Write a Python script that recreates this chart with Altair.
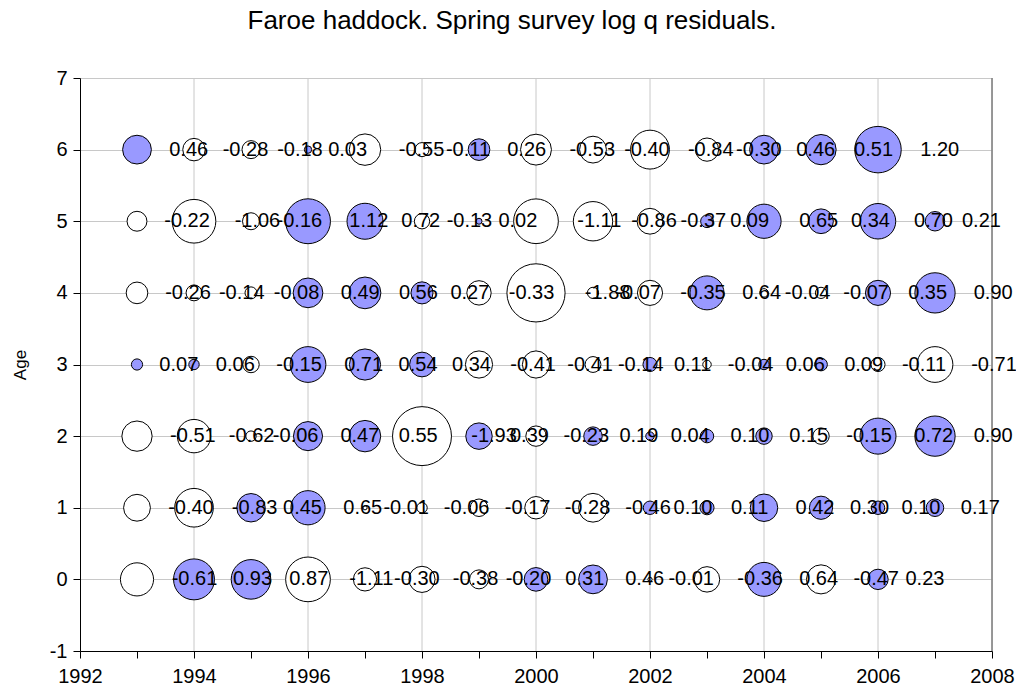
import altair as alt
import pandas as pd

# ---- data ----
years = list(range(1993, 2008))
ages = [0, 1, 2, 3, 4, 5, 6]

age0 = [-0.61, 0.93, 0.87, -1.11, -0.30, -0.38, -0.20, 0.31, 0.46, -0.01, -0.36, 0.64, -0.47, 0.23, None]
age1 = [-0.40, -0.83, 0.45, 0.65, -0.01, -0.06, -0.17, -0.28, -0.46, 0.10, 0.11, 0.42, 0.30, 0.10, 0.17]
age2 = [-0.51, -0.62, -0.06, 0.47, 0.55, -1.93, 0.39, -0.23, 0.19, 0.04, 0.10, 0.15, -0.15, 0.72, 0.90]
age3 = [0.07, 0.06, -0.15, 0.71, 0.54, 0.34, -0.41, -0.41, -0.14, 0.11, -0.04, 0.06, 0.09, -0.11, -0.71]
age4 = [-0.26, -0.14, -0.08, 0.49, 0.56, 0.27, -0.33, -1.88, -0.07, -0.35, 0.64, -0.04, -0.07, 0.35, 0.90]
age5 = [-0.22, -1.06, -0.16, 1.12, 0.72, -0.13, 0.02, -1.11, -0.86, -0.37, 0.09, 0.65, 0.34, 0.70, 0.21]
age6 = [0.46, -0.28, -0.18, 0.03, -0.55, -0.11, 0.26, -0.53, -0.40, -0.84, -0.30, 0.46, 0.51, 1.20, None]

x_ticks = list(range(1992, 2009))
y_ticks = [-1, 0, 1, 2, 3, 4, 5, 6, 7]
grid_years = [1994, 1996, 1998, 2000, 2002, 2004, 2006, 2008]

rows = []
for age, vals in zip(ages, [age0, age1, age2, age3, age4, age5, age6]):
    for yr, v in zip(years, vals):
        if v is None:
            continue
        rows.append({"year": yr, "age": age, "v": v, "absv": abs(v), "label": f"{v:.2f}"})
df = pd.DataFrame(rows)

FONT = "Liberation Sans"
PX_PER_YEAR = 912 / 16
AREA_PER_UNIT = 1800

xscale = alt.Scale(domain=[1992, 2008], nice=False, zero=False)
yscale = alt.Scale(domain=[-1, 7], nice=False, zero=False)

xaxis = alt.Axis(
    values=x_ticks, grid=False, title=None, tickSize=7, tickColor="black",
    domainColor="black", labelFont=FONT, labelFontSize=20, labelColor="black",
    labelPadding=8, labelExpr="datum.value % 2 == 0 ? '' + datum.value : ''",
    labelFlush=False, labelOverlap=False,
)
yaxis = alt.Axis(
    values=y_ticks, grid=True, gridColor="#c8c8c8", title="Age", tickSize=7,
    tickColor="black", domainColor="black", labelFont=FONT, labelFontSize=20,
    labelColor="black", labelPadding=6, labelExpr="'' + datum.value",
    titleFont=FONT, titleFontSize=17, titleFontWeight="normal", titleColor="black",
    titlePadding=20, labelOverlap=False,
)

base = alt.Chart(df)

bubbles = base.mark_circle(stroke="black", strokeWidth=1, opacity=1).encode(
    x=alt.X("year:Q", scale=xscale, axis=xaxis),
    y=alt.Y("age:Q", scale=yscale, axis=yaxis),
    size=alt.Size("absv:Q", scale=alt.Scale(domain=[0, 2], range=[0, 2 * AREA_PER_UNIT]), legend=None),
    fill=alt.condition(alt.datum.v > 0, alt.value("#9999ff"), alt.value("white")),
)

labels = base.transform_calculate(
    lx=f"datum.year + (sqrt(datum.absv * {AREA_PER_UNIT} / PI) + 16) / {PX_PER_YEAR}"
).mark_text(align="left", baseline="middle", font=FONT, fontSize=20, color="black").encode(
    x=alt.X("lx:Q", scale=xscale, axis=xaxis),
    y=alt.Y("age:Q", scale=yscale, axis=yaxis),
    text="label:N",
)

vgrid = alt.Chart(pd.DataFrame({"year": grid_years})).mark_rule(color="#c8c8c8", strokeWidth=1).encode(
    x=alt.X("year:Q", scale=xscale, axis=xaxis),
)

border = alt.Chart(pd.DataFrame({"year": [2008]})).mark_rule(color="#808080", strokeWidth=1.5).encode(
    x=alt.X("year:Q", scale=xscale, axis=xaxis),
)

chart = alt.layer(vgrid, border, bubbles, labels).properties(
    width=912,
    height=573,
    autosize="none",
    padding={"left": 72, "top": 70, "right": 24, "bottom": 38},
    title=alt.TitleParams(
        "Faroe haddock. Spring survey log q residuals.",
        font=FONT, fontSize=26, fontWeight="normal", color="black",
        anchor="middle", offset=34, dx=-24,
    ),
).configure_view(stroke=None).configure(background="white")

chart.save("out.html", embed_options={"renderer": "svg", "actions": False})
